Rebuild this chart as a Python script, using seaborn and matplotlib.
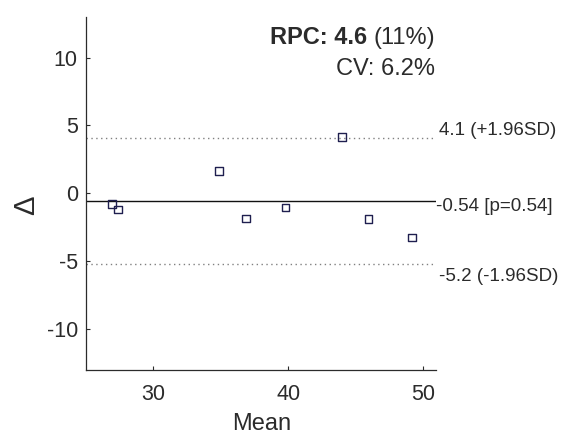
import numpy as np
import pandas as pd
import matplotlib
matplotlib.use("Agg")
import matplotlib.pyplot as plt
import seaborn as sns

# Bland-Altman data
mean_vals = [26.9, 27.35, 34.85, 36.85, 39.8, 44.0, 45.95, 49.2]
delta_vals = [-0.8, -1.2, 1.65, -1.85, -1.05, 4.15, -1.9, -3.25]
bias = -0.54
upper_loa = 4.1
lower_loa = -5.2
x_ticks = [30, 40, 50]
y_ticks = [-10, -5, 0, 5, 10]

sns.set_theme(style="white")
plt.rcParams['font.family'] = ['Liberation Sans', 'DejaVu Sans']
plt.rcParams['axes.unicode_minus'] = False

df = pd.DataFrame({'Mean': mean_vals, 'Delta': delta_vals})

fig, ax = plt.subplots(figsize=(5.63, 4.45), dpi=100)
fig.subplots_adjust(left=0.153, right=0.775, bottom=0.169, top=0.962)

text_col = '#2b2b2b'

sns.scatterplot(data=df, x='Mean', y='Delta', marker='s', s=30,
                facecolor='none', edgecolor='#1f1f4f', linewidth=1.0, ax=ax, zorder=3)

ax.axhline(bias, color='#111111', lw=1.0, zorder=2)
ax.axhline(upper_loa, color='#808080', lw=1.0, ls=(0, (1, 2.5)), zorder=2)
ax.axhline(lower_loa, color='#808080', lw=1.0, ls=(0, (1, 2.5)), zorder=2)

ax.set_xlim(25, 51)
ax.set_ylim(-13, 13)
ax.set_xticks(x_ticks)
ax.set_yticks(y_ticks)
ax.tick_params(direction='in', length=3, width=0.8, colors=text_col,
               labelsize=15.5, left=True, bottom=True)
ax.tick_params(axis='x', pad=10)
ax.tick_params(axis='y', pad=6)
for s in ['top', 'right']:
    ax.spines[s].set_visible(False)
for s in ['left', 'bottom']:
    ax.spines[s].set_color(text_col)
    ax.spines[s].set_linewidth(0.9)

ax.set_xlabel('Mean', fontsize=17, color=text_col, labelpad=6)
ax.set_ylabel('Δ', fontsize=21, color=text_col, fontweight='light')
ax.yaxis.set_label_coords(-0.13, 0.465)

# limit labels to the right of the axes
tr = ax.get_yaxis_transform()
ax.annotate('4.1 (+1.96SD)', xy=(1.0, upper_loa), xycoords=tr, xytext=(2, 2),
            textcoords='offset points', ha='left', va='baseline',
            fontsize=13.5, color=text_col, annotation_clip=False)
ax.annotate('-0.54 [p=0.54]', xy=(1.0, bias), xycoords=tr, xytext=(0, -7.5),
            textcoords='offset points', ha='left', va='baseline',
            fontsize=13.5, color=text_col, annotation_clip=False)
ax.annotate('-5.2 (-1.96SD)', xy=(1.0, lower_loa), xycoords=tr, xytext=(2, -12),
            textcoords='offset points', ha='left', va='baseline',
            fontsize=13.5, color=text_col, annotation_clip=False)

# RPC / CV text, top right
t1 = ax.text(0.996, 0.9235, '(11%)', transform=ax.transAxes, ha='right', va='baseline',
             fontsize=17, color=text_col)
fig.canvas.draw()
bb = t1.get_window_extent()
x0 = ax.transAxes.inverted().transform((bb.x0, bb.y0))[0]
ax.text(x0, 0.9235, 'RPC: 4.6 ', transform=ax.transAxes, ha='right', va='baseline',
        fontsize=17, fontweight='bold', color=text_col)
ax.text(0.996, 0.836, 'CV: 6.2%', transform=ax.transAxes, ha='right', va='baseline',
        fontsize=17, color=text_col)

fig.savefig('out.png', dpi=100)
